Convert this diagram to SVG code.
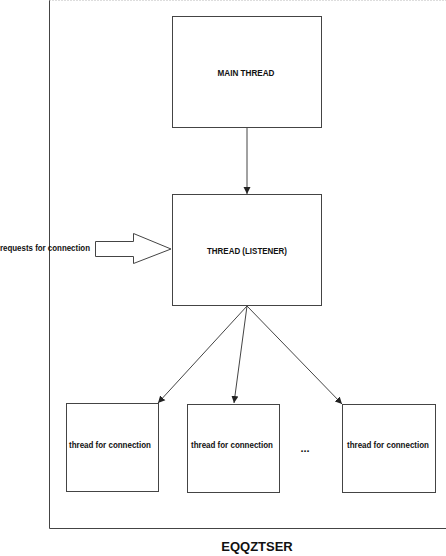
<svg xmlns="http://www.w3.org/2000/svg" width="446" height="556" viewBox="0 0 446 556">
<style>
.box{fill:#fff;stroke:#444;stroke-width:1}
.t{font-family:"Liberation Sans",Arial,sans-serif;font-size:8.6px;font-weight:bold;fill:#111;text-anchor:middle}
.c{stroke:#444;stroke-width:1;fill:none}
</style>
<defs>
<marker id="ah" markerWidth="8" markerHeight="8" refX="7" refY="4" orient="auto" markerUnits="userSpaceOnUse">
<path d="M0,0.5 L7,4 L0,7.5 Z" fill="#222"/>
</marker>
</defs>
<rect width="446" height="556" fill="#fff"/>
<g id="frame">
<line x1="49.5" y1="0" x2="49.5" y2="528.5" class="c"/>
<line x1="49.5" y1="528.5" x2="446" y2="528.5" class="c"/>
<line x1="49.5" y1="0.5" x2="446" y2="0.5" stroke="#bbb" stroke-width="1" stroke-dasharray="1,2"/>
</g>
<g id="main">
<rect x="172.5" y="16.5" width="149" height="111" class="box"/>
<text x="246" y="76" class="t" textLength="57" lengthAdjust="spacingAndGlyphs">MAIN THREAD</text>
</g>
<g id="listener">
<rect x="172.5" y="194.5" width="149" height="111" class="box"/>
<text x="247" y="254" class="t" textLength="80" lengthAdjust="spacingAndGlyphs">THREAD (LISTENER)</text>
</g>
<g id="conn1">
<rect x="66.5" y="403.5" width="92" height="88" class="box"/>
<text x="110" y="448" class="t" textLength="82" lengthAdjust="spacingAndGlyphs">thread for connection</text>
</g>
<g id="conn2">
<rect x="187.5" y="404.5" width="92" height="88" class="box"/>
<text x="232" y="448" class="t" textLength="82" lengthAdjust="spacingAndGlyphs">thread for connection</text>
</g>
<g id="dots">
<text x="305" y="452" class="t" style="font-size:11px">...</text>
</g>
<g id="conn3">
<rect x="342.5" y="404.5" width="93" height="88" class="box"/>
<text x="388" y="448" class="t" textLength="82" lengthAdjust="spacingAndGlyphs">thread for connection</text>
</g>
<g id="requests">
<polygon points="95.5,241.5 133.5,241.5 133.5,233.5 171,249 133.5,263.5 133.5,256.5 95.5,256.5" class="box"/>
<text x="0" y="251" class="t" style="text-anchor:start" textLength="90" lengthAdjust="spacingAndGlyphs">requests for connection</text>
</g>
<g id="connectors">
<line x1="247" y1="128" x2="247" y2="194" class="c" marker-end="url(#ah)"/>
<line x1="247" y1="306" x2="158" y2="403" class="c" marker-end="url(#ah)"/>
<line x1="247" y1="306" x2="234" y2="403" class="c" marker-end="url(#ah)"/>
<line x1="247" y1="306" x2="342" y2="404" class="c" marker-end="url(#ah)"/>
</g>
<g id="title">
<text x="257" y="551" style="font-family:'Liberation Sans',Arial,sans-serif;font-size:13px;font-weight:bold;fill:#111;text-anchor:middle">EQQZTSER</text>
</g>
</svg>
